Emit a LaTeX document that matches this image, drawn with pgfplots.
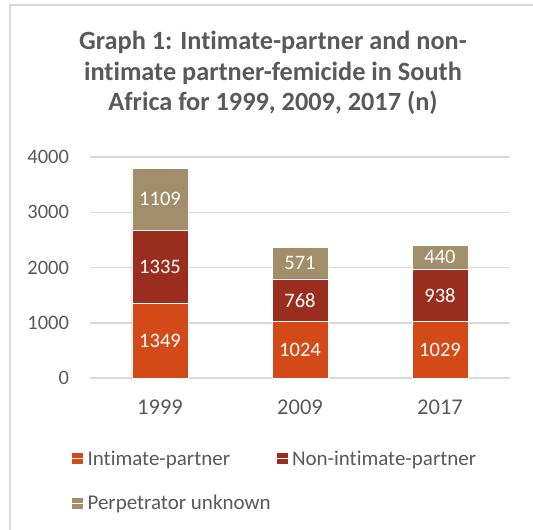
\documentclass[border=0pt]{standalone}
\usepackage{pgfplots}
\pgfplotsset{compat=1.18}
\usepackage{fontspec}
\setmainfont{Carlito}[Ligatures=NoCommon]

\definecolor{ipOrange}{RGB}{211,74,24}
\definecolor{nipRed}{RGB}{155,45,31}
\definecolor{unkTan}{RGB}{162,142,106}
\definecolor{txtGray}{RGB}{89,89,89}
\definecolor{gridGray}{RGB}{217,217,217}

\newcommand{\xlbl}{\fontsize{22.5}{27}\selectfont}
\newcommand{\ylbl}{\fontsize{20.5}{25}\selectfont}
\newcommand{\leglbl}{\fontsize{21}{25}\selectfont}

\pgfplotsset{
  basebox/.style={
    scale only axis, width=420pt, height=221pt,
    xmin=-0.5, xmax=2.5, ymin=0, ymax=4000,
    anchor=south west, at={(0pt,0pt)},
  }
}

\begin{document}
\begin{tikzpicture}
\useasboundingbox (-90pt,-152pt) rectangle (443pt,378pt);
% chart frame (only top and left edges visible in crop)
\draw[gridGray, line width=1.5pt] (-80pt,-152pt) -- (-80pt,373pt) -- (443pt,373pt);

\node[anchor=north, align=center, text=txtGray,
      font=\fontsize{26.3}{30.5}\selectfont\bfseries] at (183pt,350pt)
  {Graph 1: Intimate-partner and non-\\intimate partner-femicide in South\\Africa for 1999, 2009, 2017 (n)};

\begin{axis}[
  basebox,
  ybar stacked, bar width=56pt,
  axis line style={draw=none},
  ymajorgrids, grid style={gridGray, line width=1.5pt},
  major tick length=0pt,
  ytick={0,1000,2000,3000,4000},
  xtick={0,1,2}, xticklabels={1999,2009,2017},
  ticklabel style={text=txtGray},
  /pgf/number format/assume math mode=true,
  /pgf/number format/1000 sep={},
  yticklabel style={font=\ylbl, xshift=-17.5pt},
  xticklabel style={font=\xlbl, yshift=-18pt},
  legend style={at={(-0.05,-0.31)}, anchor=north west, draw=none,
    font=\leglbl, text=txtGray, row sep=24.5pt,
    /tikz/every even column/.append style={column sep=4pt}},
  legend columns=2, legend cell align=left,
  legend image code/.code={\draw[#1, draw=none] (0pt,-5.5pt) rectangle (11pt,5.5pt);
    \path (0pt,0pt) -- (13pt,0pt);},
]
\addplot[fill=ipOrange, draw=white, line width=0.4pt]
  coordinates {(0,1349) (1,1024) (2,1029)};
\addplot[fill=nipRed, draw=white, line width=0.4pt]
  coordinates {(0,1335) (1,768) (2,938)};
\addplot[fill=unkTan, draw=white, line width=0.4pt]
  coordinates {(0,1109) (1,571) (2,440)};
\legend{Intimate-partner, Non-intimate-partner, Perpetrator unknown}
\end{axis}

% data labels centred in each segment
\begin{axis}[basebox, hide axis]
\addplot[draw=none, nodes near coords, point meta=explicit symbolic,
  every node near coord/.style={anchor=center, text=white, font=\ylbl}]
  coordinates {
    (0,674.5) [1349] (0,2016.5) [1335] (0,3238.5) [1109]
    (1,512) [1024] (1,1408) [768] (1,2077.5) [571]
    (2,514.5) [1029] (2,1498) [938] (2,2187) [440]
  };
\end{axis}
\end{tikzpicture}
\end{document}
